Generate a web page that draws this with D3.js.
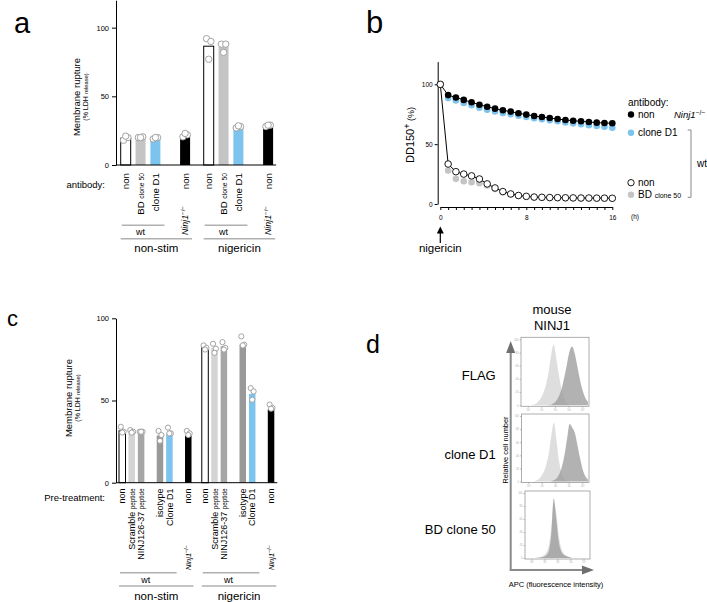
<!DOCTYPE html>
<html>
<head>
<meta charset="utf-8">
<script src="https://cdn.jsdelivr.net/npm/d3@7"></script>
<style>
  body { margin: 0; background: #fff; }
  svg { font-family: "Liberation Sans", Arial, Helvetica, sans-serif; }
</style>
</head>
<body>
<svg id="fig" width="707" height="602"></svg>
<script>
// ---- panel a data ----
const aGroups = ["non-stim", "nigericin"];
const aKeys = ["non", "BD", "D1", "gap", "ko"];
const aBarNonstim = [19.5, 20, 19.5, 21.5];
const aBarNig = [86.5, 86, 27, 27.5];
const aPtsNonstim = [[18, 20, 21], [20, 20.5, 20], [19, 20, 20], [20.5, 22, 23]];
const aPtsNig = [[92, 90, 77], [88, 88, 82], [27, 28, 28.5], [28, 29, 29]];
const aTicks = [0, 50, 100];

// ---- panel b data ----
const bTimes = [0, 0.73, 1.45, 2.18, 2.91, 3.64, 4.36, 5.09, 5.82, 6.55, 7.27, 8,
  8.73, 9.45, 10.18, 10.91, 11.64, 12.36, 13.09, 13.82, 14.55, 15.27, 16];
const bKoNon = [100, 91, 89, 87, 85, 83, 81.3, 79.7, 78.3, 77.2, 75.8, 74.7,
  73.5, 72.7, 71.9, 71, 70.2, 69.6, 69.1, 68.5, 68, 67.7, 67.5];
const bWtD1 = [100, 88.5, 86.5, 84.5, 82.5, 80.5, 78.8, 77.4, 76, 75, 73.8, 72.7,
  71.6, 70.8, 69.9, 69.1, 68.2, 67.4, 66.6, 65.9, 65.2, 64.6, 63.8];
const bWtNon = [100, 33.4, 27, 25, 23.5, 20.9, 16.8, 13.4, 10.4, 8.4, 7.1, 6.4,
  5.8, 5.6, 5.4, 5.3, 5.2, 5.1, 5, 5, 4.9, 4.9, 4.8];
const bWtBD = [100, 28, 21, 19, 18.2, 17.4, 15.5, 12.5, 9.8, 8, 6.8, 6,
  5.5, 5.3, 5.1, 5, 4.9, 4.8, 4.7, 4.7, 4.6, 4.6, 4.5];
const bXLabels = [0, 8, 16];
const bYTicks = [0, 50, 100];

// ---- panel c data ----
const cGroups = ["non-stim", "nigericin"];
const cKeys = ["non", "scr", "pep", "gap1", "iso", "d1", "gap2", "ko"];
const cBarNonstim = [31.5, 31, 31, 28.7, 30, 28.6];
const cBarNig = [82.4, 82, 83, 84, 54, 44.6];
const cPtsNonstim = [[34, 31, 30.5], [32, 31, 30.5], [31, 31, 31], [31.5, 29, 25.5], [33.5, 30, 30], [31.5, 30, 29]];
const cPtsNig = [[83.5, 82, 81], [84.5, 81.5, 79], [85.5, 82, 81], [89, 84, 83.5], [57.5, 55.5, 50.5], [47.5, 45.5, 45]];
const cTicks = [0, 50, 100];

// ---- panel d data (histograms, % of mode, 26 bins across the APC axis) ----
const dBins = [0, .04, .08, .12, .16, .20, .24, .28, .32, .36, .40, .44, .48,
  .52, .56, .60, .64, .68, .72, .76, .80, .84, .88, .92, .96, 1];
const dFlagIso = [0, 0, 0, 0, 0.5, 2, 5, 10, 18, 30, 48, 75, 92, 70, 45, 24, 10, 3, 1, 0, 0, 0, 0, 0, 0, 0];
const dFlagStain = [0, 0, 0, 0, 0, 0, 0, 0, 0, 0, 0.5, 1, 3, 7, 14, 25, 42, 62, 82, 89, 78, 58, 38, 22, 11, 5];
const dD1Iso = [0, 0, 0, 0, 0, 1, 3, 7, 14, 25, 42, 70, 90, 62, 30, 12, 4, 1, 0, 0, 0, 0, 0, 0, 0, 0];
const dD1Stain = [0, 0, 0, 0, 0, 0, 0, 0, 0, 0, 0, 0.5, 2, 5, 11, 22, 40, 65, 88, 82, 74, 55, 35, 18, 8, 3];
const dBDIso = [0, 0, 0, 0, 0.5, 1, 2, 4, 8, 18, 45, 85, 70, 35, 15, 7, 3, 1, 0, 0, 0, 0, 0, 0, 0, 0];
const dBDStain = [0, 0, 0, 0, 0, 0.5, 1, 2, 4, 10, 35, 92, 60, 25, 10, 5, 3, 1.5, 0.5, 0, 0, 0, 0, 0, 0, 0];
const dRows = ["FLAG", "clone D1", "BD clone 50"];
const dYTicks = [0, 20, 40, 60, 80, 100];
const dXTicks = ["10⁰", "10¹", "10²", "10³", "10⁴"];

const svg = d3.select("#fig");
const BLUE = "#7cc3ee";

// helper: Ninj1-/- label
function ninjText(sel, size) {
  sel.append("tspan").attr("font-style", "italic").text("Ninj1");
  sel.append("tspan").attr("font-size", size * 0.7).attr("dy", -size * 0.35).text("−/−");
}

// ================= generic bar panel =================
function barPanel(cfg) {
  const g = svg.append("g");
  const { y, outer, inner, groups, bars, pts, fills, labels, r } = cfg;
  const barKeys = inner.domain().filter(k => !k.startsWith("gap"));
  const bw = inner.bandwidth();
  const jit = [-0.22, 0.22, 0.0];

  // y axis
  const ax = g.append("g")
    .attr("transform", `translate(${cfg.axisX},0)`)
    .call(d3.axisLeft(y).tickValues(cfg.ticks).tickSize(4).tickSizeOuter(0).tickPadding(3));
  ax.selectAll("text").attr("font-size", cfg.tickFont).attr("font-family", "Liberation Sans, Arial, sans-serif").attr("fill", "#000");
  ax.select(".domain").attr("stroke", "#000").attr("stroke-width", 1);
  ax.selectAll(".tick line").attr("stroke", "#000");

  groups.forEach((grp, gi) => {
    const x0 = outer(grp);
    barKeys.forEach((k, i) => {
      const x = x0 + inner(k);
      const v = bars[gi][i];
      g.append("rect")
        .attr("x", x).attr("y", y(v))
        .attr("width", bw).attr("height", y(0) - y(v))
        .attr("fill", fills[i])
        .attr("stroke", fills[i] === "#fff" ? "#000" : "none")
        .attr("stroke-width", 1);
      g.selectAll(null)
        .data(pts[gi][i])
        .enter()
        .append("circle")
        .attr("cx", (d, j) => x + bw / 2 + jit[j] * bw)
        .attr("cy", d => y(d))
        .attr("r", r)
        .attr("fill", "#fff")
        .attr("stroke", "#9a9a9a")
        .attr("stroke-width", 0.9);

      // rotated label, top end at labelTop
      const t = g.append("text")
        .attr("transform", `translate(${x + bw / 2},${cfg.labelTop}) rotate(-90)`)
        .attr("text-anchor", "end")
        .attr("dy", "0.35em")
        .attr("font-size", cfg.labelFont);
      labels[i].forEach((part, pi) => {
        t.append("tspan").attr("font-size", pi === 0 ? cfg.labelFont : cfg.labelFont * 0.7).text(part);
      });
    });

    // bracket lines and group names
    const firstX = x0 + inner(barKeys[0]);
    const wtLast = x0 + inner(barKeys[barKeys.length - 2]) + bw;
    const koX = x0 + inner(barKeys[barKeys.length - 1]);
    g.append("line").attr("x1", firstX + 1).attr("x2", wtLast + 4)
      .attr("y1", cfg.wtLineY).attr("y2", cfg.wtLineY)
      .attr("stroke", "#b0b0b0").attr("stroke-width", 1.5);
    g.append("text").attr("x", (firstX + wtLast) / 2).attr("y", cfg.wtLineY + 10)
      .attr("text-anchor", "middle").attr("font-size", 9).text("wt");
    g.append("line").attr("x1", firstX).attr("x2", koX + bw + 2)
      .attr("y1", cfg.grpLineY).attr("y2", cfg.grpLineY)
      .attr("stroke", "#b0b0b0").attr("stroke-width", 1.5);
    g.append("text").attr("x", (firstX + koX + bw + 2) / 2).attr("y", cfg.grpLineY + 13.5)
      .attr("text-anchor", "middle").attr("font-size", 11.5).text(grp);
    // knockout label reads upward from its bottom end
    const nt = g.append("text")
      .attr("transform", `translate(${koX + bw / 2},${cfg.koBottom}) rotate(-90)`)
      .attr("text-anchor", "start").attr("dy", "0.35em").attr("font-size", cfg.koFont);
    ninjText(nt, cfg.koFont);
  });

  // baseline
  g.append("line")
    .attr("x1", cfg.axisX).attr("x2", outer.range()[1] + 3)
    .attr("y1", y(0)).attr("y2", y(0))
    .attr("stroke", "#000").attr("stroke-width", 1);

  // row title
  g.append("text").attr("x", 105).attr("y", cfg.rowTitleY)
    .attr("text-anchor", "end").attr("font-size", 9.5).text(cfg.rowTitle);

  // y label
  g.append("text")
    .attr("transform", `translate(${cfg.yLabelX},${cfg.yLabelY}) rotate(-90)`)
    .attr("text-anchor", "middle").attr("font-size", 9.5).text("Membrane rupture");
  const ys = g.append("text")
    .attr("transform", `translate(${cfg.yLabelX + 8},${cfg.yLabelY}) rotate(-90)`)
    .attr("text-anchor", "middle").attr("font-size", 7);
  ys.append("tspan").text("(% LDH ");
  ys.append("tspan").attr("font-size", 5.8).text("release)");
  return g;
}

// ================= panel a =================
const yA = d3.scaleLinear().domain([0, 120]).range([165, 0.2]);
const outerA = d3.scaleBand().domain(aGroups).range([120.7, 273.1]).paddingInner(0.164);
const innerA = d3.scaleBand().domain(aKeys).range([0, outerA.bandwidth()]).paddingInner(0.327);
barPanel({
  y: yA, outer: outerA, inner: innerA, groups: aGroups,
  bars: [aBarNonstim, aBarNig], pts: [aPtsNonstim, aPtsNig],
  fills: ["#fff", "#c4c4c4", BLUE, "#000"],
  labels: [["non"], ["BD ", "clone 50"], ["clone D1"], ["non"]],
  r: 3.2, axisX: 116, ticks: aTicks, tickFont: 7.5,
  labelTop: 173, labelFont: 9.7, koBottom: 235, koFont: 8.8,
  wtLineY: 225.3, grpLineY: 238.7, rowTitle: "antibody:", rowTitleY: 187.5,
  yLabelX: 79.5, yLabelY: 97
});

// ================= panel c =================
const yC = d3.scaleLinear().domain([0, 100]).range([482.7, 318.3]);
const outerC = d3.scaleBand().domain(cGroups).range([119, 274.3]).paddingInner(0.124);
const innerC = d3.scaleBand().domain(cKeys).range([0, outerC.bandwidth()]).paddingInner(0.31);
barPanel({
  y: yC, outer: outerC, inner: innerC, groups: cGroups,
  bars: [cBarNonstim, cBarNig], pts: [cPtsNonstim, cPtsNig],
  fills: ["#fff", "#d4d4d4", "#a6a6a6", "#999999", BLUE, "#000"],
  labels: [["non"], ["Scramble ", "peptide"], ["NINJ126-37 ", "peptide"], ["isotype"], ["Clone D1"], ["non"]],
  r: 2.6, axisX: 116, ticks: cTicks, tickFont: 7.5,
  labelTop: 488.5, labelFont: 9, koBottom: 570, koFont: 7.5,
  wtLineY: 572.7, grpLineY: 586, rowTitle: "Pre-treatment:", rowTitleY: 501,
  yLabelX: 72, yLabelY: 398
});

// ================= panel b =================
const gb = svg.append("g");
const xB = d3.scaleLinear().domain([0, 16]).range([440.3, 612.3]);
const yB = d3.scaleLinear().domain([0, 119]).range([204, 61.6]);

const axY = gb.append("g").attr("transform", "translate(437.7,0)")
  .call(d3.axisLeft(yB).tickValues(bYTicks).tickSize(3).tickSizeOuter(0).tickPadding(2));
const axX = gb.append("g").attr("transform", "translate(0,207)")
  .call(d3.axisBottom(xB).tickValues(bTimes).tickSize(3).tickSizeOuter(0).tickPadding(5)
    .tickFormat(d => bXLabels.includes(d) ? d : ""));
[axY, axX].forEach(a => {
  a.selectAll("text").attr("font-size", 6.5).attr("font-family", "Liberation Sans, Arial, sans-serif").attr("fill", "#000");
  a.select(".domain").attr("stroke", "#000");
  a.selectAll(".tick line").attr("stroke", "#000");
});
gb.append("text").attr("x", 631).attr("y", 219).attr("font-size", 6.5).text("(h)");

const line = d3.line().x((d, i) => xB(bTimes[i])).y(d => yB(d));
function dots(vals, fill, stroke) {
  gb.append("g").selectAll("circle").data(vals).enter().append("circle")
    .attr("cx", (d, i) => xB(bTimes[i])).attr("cy", d => yB(d)).attr("r", 3.3)
    .attr("fill", fill).attr("stroke", stroke).attr("stroke-width", 0.9);
}
dots(bWtD1, BLUE, "none");
gb.append("path").datum(bKoNon).attr("d", line).attr("fill", "none").attr("stroke", "#000").attr("stroke-width", 1);
dots(bKoNon, "#000", "none");
dots(bWtBD, "#c4c4c4", "none");
gb.append("path").datum(bWtNon).attr("d", line).attr("fill", "none").attr("stroke", "#000").attr("stroke-width", 1);
dots(bWtNon, "#fff", "#000");

// y label
const byl = gb.append("text").attr("transform", "translate(414,135) rotate(-90)")
  .attr("text-anchor", "middle").attr("font-size", 11);
byl.append("tspan").text("DD150");
byl.append("tspan").attr("font-size", 9).attr("dy", -4).text("+");
byl.append("tspan").attr("font-size", 9).attr("dy", 4).text(" (%)");

// nigericin arrow
gb.append("path")
  .attr("d", `M${xB(0)},226.5 l-3.5,7 h7 Z`).attr("fill", "#000");
gb.append("line").attr("x1", xB(0)).attr("x2", xB(0)).attr("y1", 232).attr("y2", 243)
  .attr("stroke", "#000").attr("stroke-width", 1.2);
gb.append("text").attr("x", xB(0)).attr("y", 252).attr("text-anchor", "middle")
  .attr("font-size", 11.5).text("nigericin");

// legend
const lg = gb.append("g").attr("font-size", 10);
lg.append("text").attr("x", 628).attr("y", 106).text("antibody:");
const legItems = [
  { y: 114.5, fill: "#000", stroke: "none", label: ["non"] },
  { y: 132.7, fill: BLUE, stroke: "none", label: ["clone D1"] },
  { y: 182.7, fill: "#fff", stroke: "#000", label: ["non"] },
  { y: 194.7, fill: "#c4c4c4", stroke: "none", label: ["BD ", "clone 50"] }
];
legItems.forEach(it => {
  lg.append("circle").attr("cx", 631).attr("cy", it.y).attr("r", 3.2)
    .attr("fill", it.fill).attr("stroke", it.stroke).attr("stroke-width", 0.9);
  const t = lg.append("text").attr("x", 638).attr("y", it.y + 3.6);
  it.label.forEach((p, i) => t.append("tspan").attr("font-size", i === 0 ? 10 : 7).text(p));
});
const lk = lg.append("text").attr("x", 674).attr("y", 118.1).attr("font-size", 9.5);
ninjText(lk, 9.5);
lg.append("path").attr("d", "M687.7,130 H691 V197.3 H687.7")
  .attr("fill", "none").attr("stroke", "#888").attr("stroke-width", 1);
lg.append("text").attr("x", 697).attr("y", 166.5).text("wt");

// ================= panel d =================
const gd = svg.append("g");
const boxes = [
  { x: 521, y: 337.3, w: 68, h: 69, iso: dFlagIso, stain: dFlagStain },
  { x: 521.5, y: 414, w: 67.5, h: 68.5, iso: dD1Iso, stain: dD1Stain },
  { x: 525, y: 491, w: 65, h: 68, iso: dBDIso, stain: dBDStain }
];
const labelY = [379.5, 459, 534];
boxes.forEach((b, bi) => {
  const hx = d3.scaleLinear().domain([0, 1]).range([b.x + 1, b.x + b.w - 1]);
  const hy = d3.scaleLinear().domain([0, 100]).range([b.y + b.h - 1, b.y + 2]);
  const area = d3.area().x((d, i) => hx(dBins[i])).y0(hy(0)).y1(d => hy(d)).curve(d3.curveMonotoneX);
  gd.append("path").datum(b.iso).attr("d", area).attr("fill", "#dedede");
  gd.append("path").datum(b.stain).attr("d", area).attr("fill", "#9c9c9c").attr("fill-opacity", 0.78);
  gd.append("rect").attr("x", b.x).attr("y", b.y).attr("width", b.w).attr("height", b.h)
    .attr("fill", "none").attr("stroke", "#9a9a9a").attr("stroke-width", 0.8);

  // tiny axes
  const tyAx = gd.append("g").attr("transform", `translate(${b.x},0)`)
    .call(d3.axisLeft(hy).tickValues(dYTicks).tickSize(1.5).tickPadding(1).tickSizeOuter(0));
  const txScale = d3.scalePoint().domain(dXTicks).range([b.x + b.w * 0.1, b.x + b.w * 0.9]);
  const txAx = gd.append("g").attr("transform", `translate(0,${b.y + b.h})`)
    .call(d3.axisBottom(txScale).tickSize(1.5).tickPadding(1).tickSizeOuter(0));
  [tyAx, txAx].forEach(a => {
    a.select(".domain").remove();
    a.selectAll(".tick line").attr("stroke", "#999").attr("stroke-width", 0.6);
    a.selectAll("text").attr("font-size", 2.6).attr("fill", "#aaa");
  });

  gd.append("text").attr("x", 495.7).attr("y", labelY[bi]).attr("text-anchor", "end")
    .attr("font-size", 13).text(dRows[bi]);
});

// axis arrows
gd.append("line").attr("x1", 510.7).attr("x2", 510.7).attr("y1", 570).attr("y2", 350)
  .attr("stroke", "#8a8a8a").attr("stroke-width", 2);
gd.append("path").attr("d", "M510.7,341 l-4.5,12 h9 Z").attr("fill", "#6f6f6f");
gd.append("line").attr("x1", 509.7).attr("x2", 585).attr("y1", 570).attr("y2", 570)
  .attr("stroke", "#8a8a8a").attr("stroke-width", 2);
gd.append("path").attr("d", "M594,570 l-12,-4.5 v9 Z").attr("fill", "#6f6f6f");

gd.append("text").attr("x", 552).attr("y", 313.5).attr("text-anchor", "middle").attr("font-size", 13).text("mouse");
gd.append("text").attr("x", 552).attr("y", 329.5).attr("text-anchor", "middle").attr("font-size", 13).text("NINJ1");
gd.append("text").attr("transform", "translate(505,450) rotate(-90)").attr("text-anchor", "middle")
  .attr("dy", "0.35em").attr("font-size", 7.4).text("Relative cell number");
gd.append("text").attr("x", 556).attr("y", 586.5).attr("text-anchor", "middle")
  .attr("font-size", 7.5).text("APC (fluorescence intensity)");

// ================= panel letters =================
[["a", 14, 33, 29], ["b", 366, 33, 31], ["c", 7, 326, 22], ["d", 366, 353, 25]].forEach(([t, x, y, s]) => {
  svg.append("text").attr("x", x).attr("y", y).attr("font-size", s).text(t);
});
</script>
</body>
</html>
